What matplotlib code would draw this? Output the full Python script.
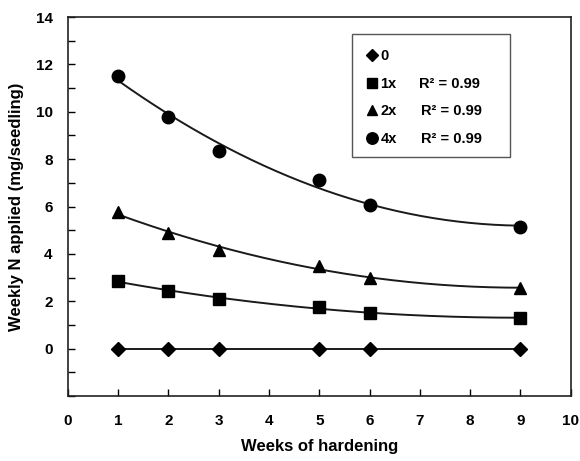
import numpy as np
import matplotlib.pyplot as plt
from matplotlib.patches import Rectangle
from matplotlib.ticker import MultipleLocator

plt.rcParams['font.family'] = ['Liberation Sans', 'DejaVu Sans']
plt.rcParams['font.weight'] = 'bold'

# data
weeks = [1, 2, 3, 5, 6, 9]
n_0x = [0, 0, 0, 0, 0, 0]
n_1x = [2.85, 2.45, 2.1, 1.75, 1.5, 1.3]
n_2x = [5.75, 4.9, 4.15, 3.5, 3.0, 2.55]
n_4x = [11.5, 9.8, 8.35, 7.1, 6.05, 5.15]
r2_text = ['', 'R² = 0.99', 'R² = 0.99', 'R² = 0.99']
labels = ['0', '1x', '2x', '4x']

fig = plt.figure(figsize=(5.8, 4.61), dpi=100)
ax = fig.add_axes([0.117, 0.141, 0.867, 0.822])

x = np.array(weeks)
xs = np.linspace(1, 9, 200)
lc = '#1a1a1a'

# 0 series, straight line
ax.plot(x, n_0x, color=lc, lw=1.4, marker='D', ms=7, mfc='black', mec='black', label=labels[0])

# trendlines (2nd order polynomial, like the original)
for ys, mk, ms, lab in [(n_1x, 's', 8, labels[1]),
                        (n_2x, '^', 8.5, labels[2]),
                        (n_4x, 'o', 9, labels[3])]:
    coef = np.polyfit(x, ys, 2)
    ax.plot(xs, np.polyval(coef, xs), color=lc, lw=1.4)
    ax.plot(x, ys, ls='none', marker=mk, ms=ms, color='black', label=lab)

ax.set_xlim(0, 10)
ax.set_ylim(-2, 14)
ax.xaxis.set_major_locator(MultipleLocator(1))
ax.set_yticks(range(0, 15, 2))
ax.yaxis.set_minor_locator(MultipleLocator(1))
ax.tick_params(axis='both', which='both', direction='in', labelsize=11, length=5, width=1)
ax.tick_params(axis='x', pad=13)
ax.tick_params(axis='y', pad=11)
for s in ax.spines.values():
    s.set_linewidth(1.2)
    s.set_color('#222222')

ax.set_xlabel('Weeks of hardening', fontsize=12, fontweight='bold', labelpad=8)
ax.set_ylabel('Weekly N applied (mg/seedling)', fontsize=12, fontweight='bold', labelpad=8)

# legend: markers + labels, with R² column and a plain box
leg = ax.legend(loc='upper left', bbox_to_anchor=(0.597, 0.915), fontsize=10.5,
                frameon=False, handlelength=0.6, handletextpad=0.25,
                labelspacing=0.93, borderpad=0, borderaxespad=0, markerscale=0.92)
ax.add_patch(Rectangle((0.565, 0.631), 0.314, 0.324, transform=ax.transAxes,
                       fill=False, edgecolor='#555555', lw=1.0, zorder=5))
fig.canvas.draw()
for i, (txt, r2) in enumerate(zip(leg.get_texts(), r2_text)):
    if not r2:
        continue
    bb = txt.get_window_extent()
    cy = (bb.y0 + bb.y1) / 2 / fig.bbox.height
    x_r2 = 0.722 if i == 1 else 0.726
    fig.text(x_r2, cy, r2, fontsize=10.5, fontweight='bold', va='center')

fig.savefig('out.png', dpi=100)
